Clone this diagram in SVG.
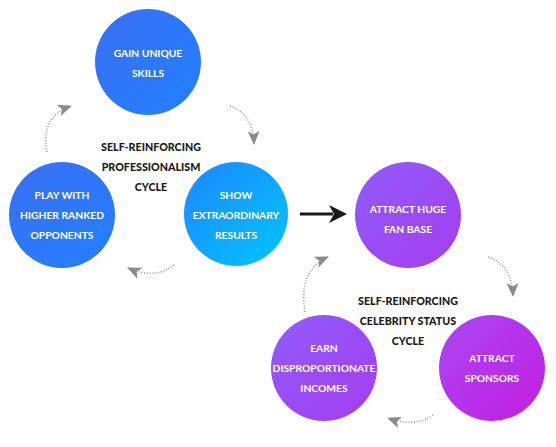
<svg xmlns="http://www.w3.org/2000/svg" width="556" height="447" viewBox="0 0 556 447">
<style>
.node text{font-family:Lato,"Open Sans",sans-serif;font-weight:700;font-size:10.3px;fill:#fff;text-anchor:middle}
.title{font-family:Lato,"Open Sans",sans-serif;font-weight:900;font-size:10.7px;fill:#1a1a1a;text-anchor:middle}
.dot{fill:none;stroke:#999;stroke-width:1.6;stroke-dasharray:1 1.8}
</style>
<defs>
<linearGradient id="gBlue" x1="0" y1="0" x2="1" y2="1"><stop offset="0" stop-color="#3a6ff5"/><stop offset="1" stop-color="#2280ff"/></linearGradient>
<linearGradient id="gCyan" x1="0" y1="0" x2="1" y2="1"><stop offset="0" stop-color="#1e86ff"/><stop offset="1" stop-color="#00c6ff"/></linearGradient>
<linearGradient id="gPurple" x1="0" y1="0" x2="1" y2="1"><stop offset="0" stop-color="#8f5cfc"/><stop offset="1" stop-color="#a63cee"/></linearGradient>
<linearGradient id="gMagenta" x1="0" y1="0" x2="1" y2="1"><stop offset="0" stop-color="#a847f5"/><stop offset="1" stop-color="#c41ee0"/></linearGradient>
<marker id="ah" markerUnits="userSpaceOnUse" markerWidth="16" markerHeight="12" refX="13" refY="6" orient="auto"><path d="M0,0 L14,6 L0,12 L3.5,6 z" fill="#8a8a8a"/></marker>
<marker id="ahb" markerUnits="userSpaceOnUse" markerWidth="20" markerHeight="18" refX="4" refY="9" orient="auto"><path d="M0,0 L18,9 L0,18 L5,9 z" fill="#1a1a1a"/></marker>
</defs>
<g id="connectors">
<path class="dot" d="M230,106 Q253,114 254,144" marker-end="url(#ah)"/>
<path class="dot" d="M174,265 Q155,280 128,268" marker-end="url(#ah)"/>
<path class="dot" d="M47,152 Q40,117 71,106" marker-end="url(#ah)"/>
<path class="dot" d="M305,312 Q298,270 328,257" marker-end="url(#ah)"/>
<path class="dot" d="M488,257 Q512,265 513,296" marker-end="url(#ah)"/>
<path class="dot" d="M433,415 Q415,428 388,418" marker-end="url(#ah)"/>
<path d="M300,214 L333,214" stroke="#1a1a1a" stroke-width="3" fill="none" marker-end="url(#ahb)"/>
</g>
<g id="cycle1-label"><text class="title" x="151" y="151">SELF-REINFORCING</text><text class="title" x="151" y="171">PROFESSIONALISM</text><text class="title" x="151" y="191">CYCLE</text></g>
<g id="cycle2-label"><text class="title" x="408" y="305">SELF-REINFORCING</text><text class="title" x="408" y="325">CELEBRITY STATUS</text><text class="title" x="408" y="345">CYCLE</text></g>
<g id="gain" class="node"><circle cx="148" cy="62" r="53" fill="url(#gBlue)"/><text x="148" y="57">GAIN UNIQUE</text><text x="148" y="77">SKILLS</text></g>
<g id="play" class="node"><circle cx="62" cy="215" r="53" fill="url(#gBlue)"/><text x="62" y="199">PLAY WITH</text><text x="62" y="219">HIGHER RANKED</text><text x="62" y="239">OPPONENTS</text></g>
<g id="show" class="node"><circle cx="236" cy="214" r="52" fill="url(#gCyan)"/><text x="236" y="199">SHOW</text><text x="236" y="219">EXTRAORDINARY</text><text x="236" y="239">RESULTS</text></g>
<g id="fans" class="node"><circle cx="408" cy="215" r="53" fill="url(#gPurple)"/><text x="408" y="213">ATTRACT HUGE</text><text x="408" y="233">FAN BASE</text></g>
<g id="earn" class="node"><circle cx="324" cy="368" r="53" fill="url(#gPurple)"/><text x="324" y="352">EARN</text><text x="324" y="372">DISPROPORTIONATE</text><text x="324" y="392">INCOMES</text></g>
<g id="sponsors" class="node"><circle cx="492" cy="368" r="53" fill="url(#gMagenta)"/><text x="492" y="362">ATTRACT</text><text x="492" y="382">SPONSORS</text></g>
</svg>
